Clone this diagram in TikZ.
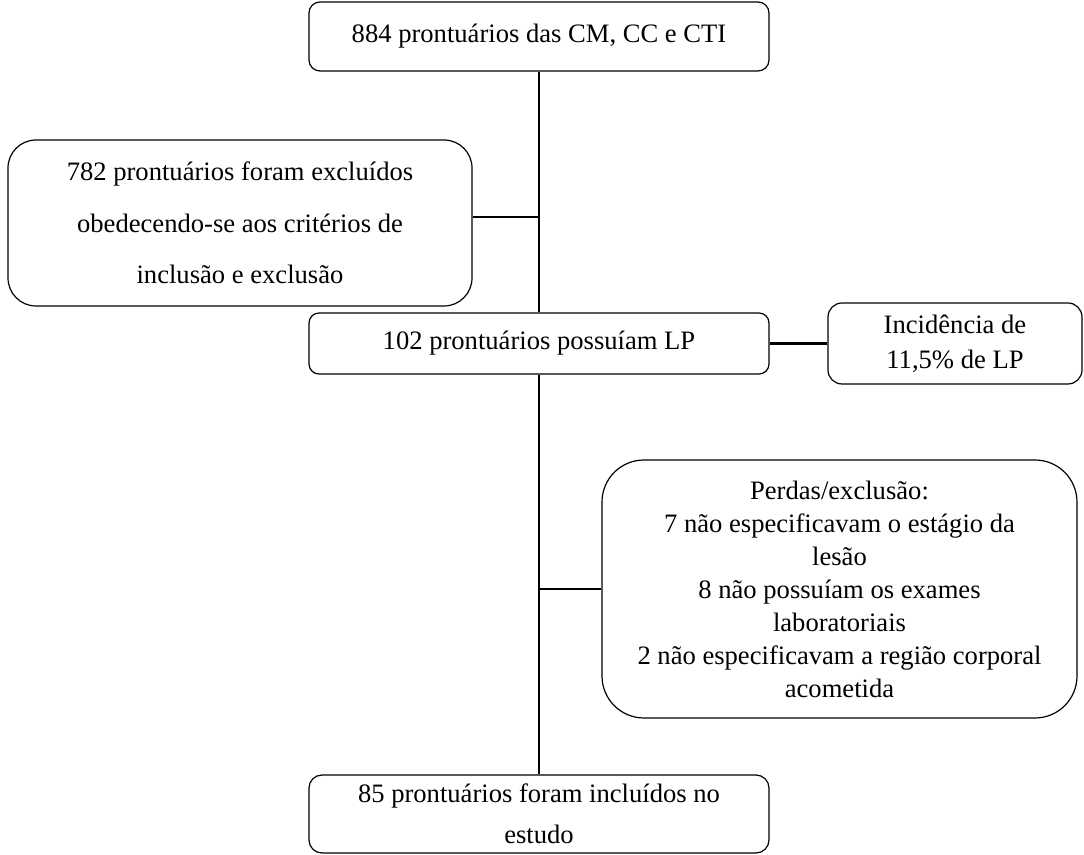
\documentclass[tikz,border=0pt]{standalone}
\usepackage{fontspec}
\setmainfont{Liberation Serif}
\usetikzlibrary{positioning}

\begin{document}
\begin{tikzpicture}[x=0.5pt, y=-0.5pt,
    font=\fontsize{13.3pt}{16.5pt}\selectfont,
    rec/.style={draw, line width=0.6pt, align=center, inner sep=0pt},
    link/.style={line width=1.1pt}]
  \useasboundingbox (0,0) rectangle (1084,855);
  \node[rec, minimum width=230pt, minimum height=34.5pt, rounded corners=5.5pt]
    (total) at (539,36.5) {884 prontuários das CM, CC e CTI};%
  \node[rec, minimum width=232pt, minimum height=83pt, rounded corners=14pt,
    font=\fontsize{13.3pt}{25.75pt}\selectfont]
    (excl) at (240,223) {782 prontuários foram excluídos\\obedecendo-se aos critérios de\\inclusão e exclusão};%
  \node[rec, minimum width=230pt, minimum height=30.5pt, rounded corners=5pt]
    (comlp) at (539,343.5) {102 prontuários possuíam LP};%
  \node[rec, minimum width=127pt, minimum height=40.5pt, rounded corners=7pt,
    font=\fontsize{13.3pt}{17.5pt}\selectfont]
    (incid) at (955,343.5) {Incidência de\\11,5\% de LP};%
  \node[rec, minimum width=237.5pt, minimum height=129pt, rounded corners=21pt]
    (perdas) at (839.5,589) {Perdas/exclusão:\\7 não especificavam o estágio da\\lesão\\8 não possuíam os exames\\laboratoriais\\2 não especificavam a região corporal\\acometida};%
  \node[rec, minimum width=230pt, minimum height=39pt, rounded corners=6.5pt,
    font=\fontsize{13.3pt}{20.5pt}\selectfont]
    (incl) at (539,814) {85 prontuários foram incluídos no\\estudo};%
  % ligacoes
  \draw[link] (total) -- (comlp);
  \draw[link] (comlp) -- (incl);
  \draw[link] ([yshift=3pt]excl.east) -- ([yshift=3pt]excl.east -| total.south);
  \draw[link] (comlp) -- (incid);
  \draw[link] (perdas.west) -- (perdas.west -| total.south);
\end{tikzpicture}
\end{document}
